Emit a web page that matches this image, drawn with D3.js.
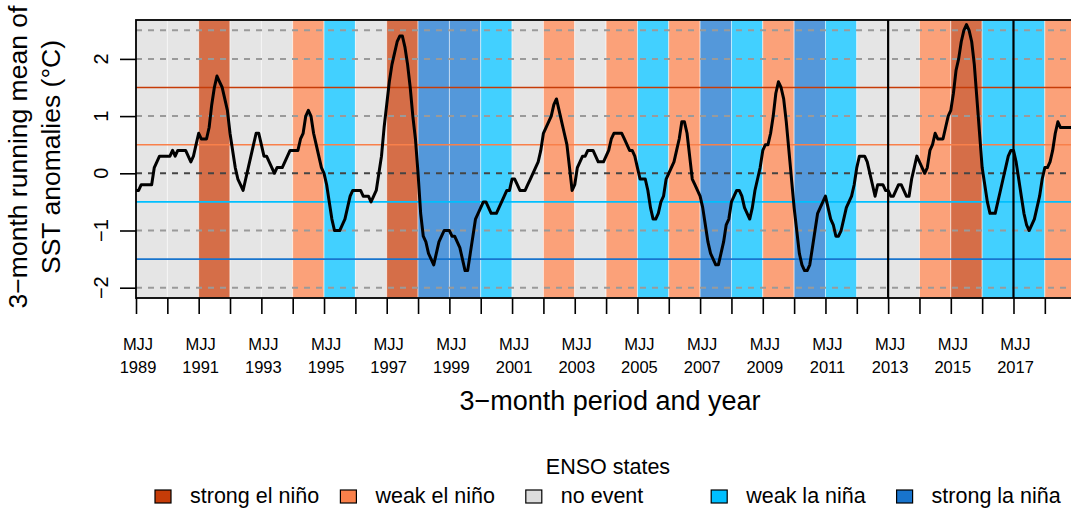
<!DOCTYPE html>
<html>
<head>
<meta charset="utf-8">
<script src="https://cdn.jsdelivr.net/npm/d3@7"></script>
<style>
  body { margin: 0; background: #fff; }
  svg { display: block; }
  text { font-family: "Liberation Sans", Arial, Helvetica, sans-serif; fill: #000; }
</style>
</head>
<body>
<svg id="chart" width="1071" height="512"></svg>
<script>
// 3-month running mean of SST anomalies (°C), one value per overlapping season,
// starting with MJJ 1989; each row runs MJJ .. AMJ of the following year.
const firstSeason = "MJJ";
const firstYear = 1989;
const sstAnomaly = [
  -0.3, -0.3, -0.2, -0.2, -0.2, -0.2, -0.2,  0.1,  0.2,  0.3,  0.3,  0.3, // 1989
   0.3,  0.3,  0.4,  0.3,  0.4,  0.4,  0.4,  0.4,  0.3,  0.2,  0.3,  0.5, // 1990
   0.7,  0.6,  0.6,  0.6,  0.8,  1.2,  1.5,  1.7,  1.6,  1.5,  1.3,  1.1, // 1991
   0.7,  0.4,  0.1, -0.1, -0.2, -0.3, -0.1,  0.1,  0.3,  0.5,  0.7,  0.7, // 1992
   0.5,  0.3,  0.3,  0.2,  0.1,  0.0,  0.1,  0.1,  0.1,  0.2,  0.3,  0.4, // 1993
   0.4,  0.4,  0.4,  0.6,  0.7,  1.0,  1.1,  1.0,  0.7,  0.5,  0.3,  0.1, // 1994
   0.0, -0.2, -0.5, -0.8, -1.0, -1.0, -1.0, -0.9, -0.8, -0.6, -0.4, -0.3, // 1995
  -0.3, -0.3, -0.3, -0.4, -0.4, -0.4, -0.5, -0.4, -0.3,  0.0,  0.3,  0.8, // 1996
   1.2,  1.6,  1.9,  2.1,  2.3,  2.4,  2.4,  2.2,  1.9,  1.5,  1.0,  0.6, // 1997
   0.0, -0.7, -1.1, -1.2, -1.4, -1.5, -1.6, -1.4, -1.2, -1.1, -1.0, -1.0, // 1998
  -1.0, -1.1, -1.1, -1.2, -1.3, -1.5, -1.7, -1.7, -1.4, -1.1, -0.8, -0.7, // 1999
  -0.6, -0.5, -0.5, -0.6, -0.7, -0.7, -0.7, -0.6, -0.5, -0.4, -0.3, -0.3, // 2000
  -0.1, -0.1, -0.2, -0.3, -0.3, -0.3, -0.2, -0.1,  0.0,  0.1,  0.2,  0.4, // 2001
   0.7,  0.8,  0.9,  1.0,  1.2,  1.3,  1.1,  0.9,  0.7,  0.5,  0.1, -0.3, // 2002
  -0.2,  0.1,  0.2,  0.3,  0.3,  0.4,  0.4,  0.4,  0.3,  0.2,  0.2,  0.2, // 2003
   0.3,  0.4,  0.6,  0.7,  0.7,  0.7,  0.7,  0.6,  0.5,  0.4,  0.4,  0.3, // 2004
   0.1, -0.1, -0.1, -0.1, -0.3, -0.6, -0.8, -0.8, -0.7, -0.5, -0.4, -0.1, // 2005
   0.0,  0.1,  0.2,  0.4,  0.6,  0.9,  0.9,  0.7,  0.3, -0.1, -0.2, -0.3, // 2006
  -0.4, -0.6, -0.9, -1.2, -1.4, -1.5, -1.6, -1.6, -1.4, -1.2, -0.9, -0.8, // 2007
  -0.5, -0.4, -0.3, -0.3, -0.4, -0.6, -0.7, -0.8, -0.6, -0.3, -0.1,  0.1, // 2008
   0.4,  0.5,  0.5,  0.7,  1.0,  1.4,  1.6,  1.5,  1.3,  0.9,  0.4, -0.1, // 2009
  -0.6, -1.0, -1.4, -1.6, -1.7, -1.7, -1.6, -1.3, -1.0, -0.7, -0.6, -0.5, // 2010
  -0.4, -0.6, -0.8, -0.9, -1.1, -1.1, -1.0, -0.8, -0.6, -0.5, -0.4, -0.2, // 2011
   0.1,  0.3,  0.3,  0.3,  0.2,  0.0, -0.2, -0.4, -0.2, -0.2, -0.2, -0.3, // 2012
  -0.3, -0.4, -0.4, -0.3, -0.2, -0.2, -0.3, -0.4, -0.4, -0.1,  0.1,  0.3, // 2013
   0.2,  0.1,  0.0,  0.1,  0.4,  0.5,  0.7,  0.6,  0.6,  0.6,  0.8,  1.0, // 2014
   1.1,  1.4,  1.8,  2.0,  2.3,  2.5,  2.6,  2.5,  2.3,  1.9,  1.3,  0.7, // 2015
   0.1, -0.2, -0.5, -0.7, -0.7, -0.7, -0.5, -0.3, -0.1,  0.1,  0.3,  0.4, // 2016
   0.4,  0.2, -0.1, -0.4, -0.7, -0.9, -1.0, -0.9, -0.8, -0.6, -0.4, -0.1, // 2017
   0.1,  0.1,  0.2,  0.4,  0.7,  0.9,  0.8,  0.8,  0.8,  0.8,  0.8,  0.8  // 2018
];

// ENSO state of each year, counted from MJJ to MJJ
const ensoYears = [1989, 1990, 1991, 1992, 1993, 1994, 1995, 1996, 1997, 1998,
                   1999, 2000, 2001, 2002, 2003, 2004, 2005, 2006, 2007, 2008,
                   2009, 2010, 2011, 2012, 2013, 2014, 2015, 2016, 2017, 2018];
const ensoState = ["none", "none", "strongNino", "none", "none", "weakNino", "weakNina", "none", "strongNino", "strongNina",
                   "strongNina", "weakNina", "none", "weakNino", "none", "weakNino", "weakNina", "weakNino", "strongNina", "weakNina",
                   "weakNino", "strongNina", "weakNina", "none", "none", "weakNino", "strongNino", "weakNina", "weakNina", "weakNino"];

const stateKeys   = ["strongNino", "weakNino", "none", "weakNina", "strongNina"];
const stateLabels = ["strong el niño", "weak el niño", "no event", "weak la niña", "strong la niña"];
const stateColors = ["#c63c08", "#f9804a", "#dcdcdc", "#00bfff", "#1874cd"];

// thresholds separating weak / strong events
const thresholdValues = [1.5, 0.5, -0.5, -1.5];
const thresholdStates = ["strongNino", "weakNino", "weakNina", "strongNina"];

const gridValues = [2.5, 2, 1, -1, -2];
const yTickValues = [-2, -1, 0, 1, 2];
const tickYears = ensoYears;
const labelYears = [1989, 1991, 1993, 1995, 1997, 1999, 2001, 2003, 2005, 2007, 2009, 2011, 2013, 2015, 2017];
const markerYears = [2013, 2017];

const FONT = '"Liberation Sans", Arial, Helvetica, sans-serif';
const plot = { left: 136, right: 1084, top: 20, bottom: 298 };

const svg = d3.select("#chart");
const colorOf = d3.scaleOrdinal().domain(stateKeys).range(stateColors);
const seasonIndex = year => (year - firstYear) * 12;

const x = d3.scaleLinear().domain([0, 363]).range([plot.left, plot.right]);
const y = d3.scaleLinear().domain([-2.18, 2.68]).range([plot.bottom, plot.top]);

svg.append("defs").append("clipPath").attr("id", "plotClip")
  .append("rect")
  .attr("x", plot.left).attr("y", plot.top)
  .attr("width", plot.right - plot.left).attr("height", plot.bottom - plot.top);

const inner = svg.append("g").attr("clip-path", "url(#plotClip)");

// ENSO state bands
inner.append("g").selectAll("rect")
  .data(ensoYears.map((yr, i) => ({ yr, state: ensoState[i] })))
  .join("rect")
  .attr("x", d => x(seasonIndex(d.yr)))
  .attr("width", d => x(seasonIndex(d.yr + 1)) - x(seasonIndex(d.yr)))
  .attr("y", plot.top)
  .attr("height", plot.bottom - plot.top)
  .attr("fill", d => colorOf(d.state))
  .attr("fill-opacity", 0.74)
  .attr("stroke", "#fff")
  .attr("stroke-opacity", 0.55)
  .attr("stroke-width", 0.9);

// dashed reference lines
inner.append("g").selectAll("line")
  .data(gridValues)
  .join("line")
  .attr("x1", plot.left).attr("x2", plot.right)
  .attr("y1", d => y(d)).attr("y2", d => y(d))
  .attr("stroke", "#9a9a9a")
  .attr("stroke-width", 2)
  .attr("stroke-dasharray", "6,6");

inner.append("line")
  .attr("x1", plot.left).attr("x2", plot.right)
  .attr("y1", y(0)).attr("y2", y(0))
  .attr("stroke", "#444")
  .attr("stroke-width", 2)
  .attr("stroke-dasharray", "6,6");

// event thresholds
inner.append("g").selectAll("line")
  .data(thresholdValues.map((v, i) => ({ v, state: thresholdStates[i] })))
  .join("line")
  .attr("x1", plot.left).attr("x2", plot.right)
  .attr("y1", d => y(d.v)).attr("y2", d => y(d.v))
  .attr("stroke", d => colorOf(d.state))
  .attr("stroke-width", 1.6);

// marker years
inner.append("g").selectAll("line")
  .data(markerYears)
  .join("line")
  .attr("x1", d => x(seasonIndex(d))).attr("x2", d => x(seasonIndex(d)))
  .attr("y1", plot.top).attr("y2", plot.bottom)
  .attr("stroke", "#000")
  .attr("stroke-width", 2.2);

// anomaly series
const line = d3.line()
  .x((d, i) => x(i))
  .y(d => y(d));

inner.append("path")
  .datum(sstAnomaly)
  .attr("d", line)
  .attr("fill", "none")
  .attr("stroke", "#000")
  .attr("stroke-width", 3)
  .attr("stroke-linejoin", "round")
  .attr("stroke-linecap", "round");

// plot frame
svg.append("rect")
  .attr("x", plot.left).attr("y", plot.top)
  .attr("width", plot.right - plot.left).attr("height", plot.bottom - plot.top)
  .attr("fill", "none")
  .attr("stroke", "#000")
  .attr("stroke-width", 1.8);

// x axis: one tick per year, labels every second year
const xAxis = d3.axisBottom(x)
  .tickValues(tickYears.map(seasonIndex))
  .tickSize(16)
  .tickFormat("");
const gx = svg.append("g")
  .attr("transform", `translate(0,${plot.bottom})`)
  .call(xAxis);
gx.select(".domain").remove();
gx.selectAll(".tick line").attr("stroke", "#000").attr("stroke-width", 1.6);

const xLabels = svg.append("g")
  .attr("font-family", FONT)
  .attr("font-size", 16.5)
  .attr("text-anchor", "middle");
xLabels.selectAll("text.season")
  .data(labelYears)
  .join("text")
  .attr("class", "season")
  .attr("x", d => x(seasonIndex(d)) + 2)
  .attr("y", 350)
  .text(firstSeason);
xLabels.selectAll("text.year")
  .data(labelYears)
  .join("text")
  .attr("class", "year")
  .attr("x", d => x(seasonIndex(d)) + 2)
  .attr("y", 372.5)
  .text(d => d);

// y axis
const yAxis = d3.axisLeft(y)
  .tickValues(yTickValues)
  .tickSize(16)
  .tickFormat("");
const gy = svg.append("g")
  .attr("transform", `translate(${plot.left},0)`)
  .call(yAxis);
gy.select(".domain").remove();
gy.selectAll(".tick line").attr("stroke", "#000").attr("stroke-width", 1.6);

svg.append("g")
  .attr("font-family", FONT)
  .attr("font-size", 20)
  .attr("text-anchor", "middle")
  .selectAll("text")
  .data(yTickValues)
  .join("text")
  .attr("transform", d => `translate(108,${y(d)}) rotate(-90)`)
  .text(d => (d < 0 ? "\u2212" + Math.abs(d) : String(d)));

// axis titles
svg.append("text")
  .attr("x", 610).attr("y", 410)
  .attr("text-anchor", "middle")
  .attr("font-size", 27)
  .text("3\u2212month period and year");

const yTitle = svg.append("g")
  .attr("font-size", 26.5)
  .attr("text-anchor", "middle");
yTitle.append("text")
  .attr("transform", "translate(26.5,157) rotate(-90)")
  .text("3\u2212month running mean of");
yTitle.append("text")
  .attr("transform", "translate(59.5,157) rotate(-90)")
  .text("SST anomalies (\u00B0C)");

// legend
const legend = svg.append("g").attr("font-size", 21.5);
legend.append("text")
  .attr("x", 608).attr("y", 474)
  .attr("text-anchor", "middle")
  .text("ENSO states");

const item = legend.selectAll("g.item")
  .data(stateKeys.map((k, i) => ({ k, label: stateLabels[i] })))
  .join("g")
  .attr("class", "item")
  .attr("transform", (d, i) => `translate(${155 + i * 185.4},0)`);
item.append("rect")
  .attr("x", 0).attr("y", 490)
  .attr("width", 16).attr("height", 13)
  .attr("fill", d => colorOf(d.k))
  .attr("stroke", "#000")
  .attr("stroke-width", 1.2);
item.append("text")
  .attr("x", 35).attr("y", 503.3)
  .text(d => d.label);
</script>
</body>
</html>
